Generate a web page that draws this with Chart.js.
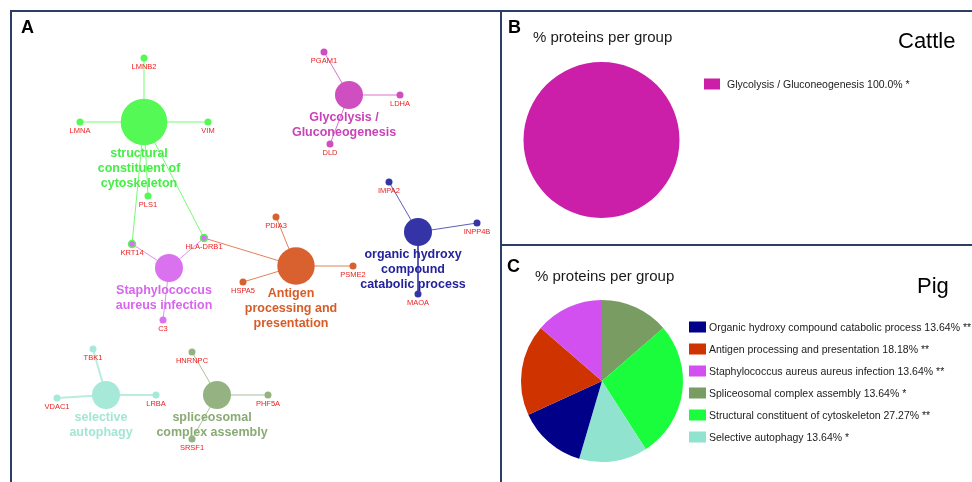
<!DOCTYPE html>
<html lang="en">
<head>
<meta charset="utf-8">
<title>Protein groups</title>
<script src="https://cdn.jsdelivr.net/npm/chart.js@4.4.1/dist/chart.umd.min.js"></script>
<style>
  body { margin: 0; background: #fff; width: 972px; height: 482px; overflow: hidden; position: relative; }
  canvas { position: absolute; }
  #reseau { left: 0; top: 0; }
  #bovin { left: 502px; top: 12px; }
  #porc { left: 502px; top: 247px; }
  .trait { position: absolute; background: #2a3e66; }
</style>
</head>
<body>
<canvas id="reseau" width="500" height="482"></canvas>
<canvas id="bovin" width="470" height="233"></canvas>
<canvas id="porc" width="470" height="235"></canvas>
<div class="trait" style="left:10px;top:10px;width:962px;height:2px"></div>
<div class="trait" style="left:10px;top:10px;width:2px;height:472px"></div>
<div class="trait" style="left:500px;top:10px;width:2px;height:472px"></div>
<div class="trait" style="left:500px;top:244px;width:472px;height:2px"></div>
<script>
// --- panel A : network of terms and genes (layout coordinates) ---
const termesLignes = [
    ["structural", "constituent of", "cytoskeleton"],
    ["Glycolysis /", "Gluconeogenesis"],
    ["organic hydroxy", "compound", "catabolic process"],
    ["Staphylococcus", "aureus infection"],
    ["Antigen", "processing and", "presentation"],
    ["selective", "autophagy"],
    ["spliceosomal", "complex assembly"],
];
const termesX = [144, 349, 418, 169, 296, 106, 217];
const termesY = [122, 95, 232, 268, 266, 395, 395];

const genes = ["LMNB2", "LMNA", "VIM", "PLS1", "KRT14", "HLA-DRB1", "PGAM1", "LDHA", "DLD",
    "IMPA2", "INPP4B", "MAOA", "C3", "PDIA3", "HSPA5", "PSME2", "TBK1", "VDAC1", "LRBA",
    "HNRNPC", "PHF5A", "SRSF1"];
const genesX = [144, 80, 208, 148, 132, 204, 324, 400, 330, 389, 477, 418, 163, 276, 243, 353, 93, 57, 156, 192, 268, 192];
const genesY = [58, 122, 122, 196, 244, 238, 52, 95, 144, 182, 223, 294, 320, 217, 282, 266, 349, 398, 395, 352, 395, 439];
const genesTermes = [[0], [0], [0], [0], [0, 3], [0, 3, 4], [1], [1], [1], [2], [2], [2], [3], [4], [4], [4], [5], [5], [5], [6], [6], [6]];

// --- panels B and C : pies ---
const bovinGroupes = ["Glycolysis / Gluconeogenesis"];
const bovinPourcents = [100.0];
const bovinEtoiles = ["*"];

const porcGroupes = ["Organic hydroxy compound catabolic process", "Antigen processing and presentation",
    "Staphylococcus aureus aureus infection", "Spliceosomal complex assembly",
    "Structural constituent of cytoskeleton", "Selective autophagy"];
const porcPourcents = [13.64, 18.18, 13.64, 13.64, 27.27, 13.64];
const porcEtoiles = ["**", "**", "**", "*", "**", "*"];
const porcOrdreParts = [3, 4, 5, 0, 1, 2]; // clockwise from 12 o'clock

// styles
const couleursTermes = ["#55f955", "#d04fc0", "#3434a6", "#da72ef", "#d9612f", "#a6e9d8", "#95b282"];
const couleursTextes = ["#45ee45", "#c943b8", "#23239c", "#d865ee", "#d65c28", "#a3e6d4", "#8aab74"];
const couleursBovin = ["#cb1fa9"];
const couleursPorc = ["#000088", "#cf3300", "#d24ff0", "#789c62", "#19fd3c", "#90e4cf"];
const POLICE = '"Liberation Sans", Arial, sans-serif';

function rayonTerme(nbGenes) {
    // hub size grows with the number of genes
    const tailles = { 3: 14, 4: 18.7, 6: 23.3 };
    return tailles[nbGenes] || 14;
}

const nbGenesParTerme = termesX.map((_, t) => genesTermes.filter(liste => liste.includes(t)).length);

const aretes = [];
genesTermes.forEach((liste, i) => {
    liste.forEach(t => {
        aretes.push({
            type: "line",
            data: [{ x: termesX[t], y: termesY[t] }, { x: genesX[i], y: genesY[i] }],
            borderColor: couleursTermes[t] + "cc",
            borderWidth: t === 5 ? 2 : 1,
            pointRadius: 0,
            order: 3,
        });
    });
});

const etiquettesReseau = {
    id: "etiquettesReseau",
    afterDatasetsDraw(chart) {
        const { ctx, scales: { x, y } } = chart;
        ctx.save();
        ctx.textAlign = "center";
        ctx.textBaseline = "middle";
        ctx.font = "7.5px " + POLICE;
        ctx.fillStyle = "#ee2020";
        genes.forEach((nom, i) => {
            ctx.fillText(nom, x.getPixelForValue(genesX[i]), y.getPixelForValue(genesY[i]) + 8.5);
        });
        ctx.font = "bold 12.5px " + POLICE;
        termesLignes.forEach((lignes, t) => {
            const px = x.getPixelForValue(termesX[t]) - 5;
            const py = y.getPixelForValue(termesY[t]) + rayonTerme(nbGenesParTerme[t]) + 8.5;
            ctx.fillStyle = couleursTextes[t];
            lignes.forEach((ligne, k) => ctx.fillText(ligne, px, py + k * 15));
        });
        ctx.textAlign = "left";
        ctx.textBaseline = "alphabetic";
        ctx.fillStyle = "#000";
        ctx.font = "bold 18px " + POLICE;
        ctx.fillText("A", 21, 33);
        ctx.restore();
    },
};

new Chart(document.getElementById("reseau"), {
    type: "scatter",
    data: {
        datasets: [
            {
                data: termesX.map((v, t) => ({ x: v, y: termesY[t] })),
                pointRadius: nbGenesParTerme.map(rayonTerme),
                pointHoverRadius: nbGenesParTerme.map(rayonTerme),
                backgroundColor: couleursTermes,
                borderWidth: 0,
                order: 1,
            },
            {
                data: genesX.map((v, i) => ({ x: v, y: genesY[i] })),
                pointRadius: 3.5,
                backgroundColor: genesTermes.map(l => couleursTermes[l[l.length > 1 ? 1 : 0]]),
                borderColor: genesTermes.map(l => couleursTermes[l[0]]),
                borderWidth: genesTermes.map(l => l.length > 1 ? 1.5 : 0),
                order: 2,
            },
            ...aretes,
        ],
    },
    options: {
        responsive: false,
        animation: false,
        layout: { padding: 0, autoPadding: false },
        scales: {
            x: { type: "linear", display: false, min: 0, max: 500 },
            y: { type: "linear", display: false, min: 0, max: 482, reverse: true },
        },
        plugins: { legend: { display: false }, tooltip: { enabled: false } },
    },
    plugins: [etiquettesReseau],
});

// --- pies ---
const textesPanneau = {
    id: "textesPanneau",
    afterDraw(chart, args, opts) {
        const ctx = chart.ctx;
        ctx.save();
        ctx.textAlign = "left";
        ctx.textBaseline = "alphabetic";
        ctx.fillStyle = "#000";
        ctx.font = "bold 18px " + POLICE;
        ctx.fillText(opts.lettre, opts.lettreX, opts.lettreY);
        ctx.fillStyle = "#1a1a1a";
        ctx.font = "15px " + POLICE;
        ctx.fillText("% proteins per group", opts.titreX, opts.titreY);
        ctx.fillStyle = "#000";
        ctx.font = "22px " + POLICE;
        ctx.fillText(opts.espece, opts.especeX, opts.especeY);
        ctx.font = "10.5px " + POLICE;
        opts.legende.forEach((item, k) => {
            const cy = opts.legendeY + k * opts.pas;
            ctx.fillStyle = item.couleur;
            ctx.fillRect(opts.carreX, cy - 5.5, opts.carreL, 11);
            ctx.fillStyle = "#1a1a1a";
            ctx.fillText(item.texte, opts.texteX, cy + 4);
        });
        ctx.restore();
    },
};

function creerCamembert(canvas, valeurs, couleurs, padding, legende, textes) {
    new Chart(canvas, {
        type: "pie",
        data: {
            labels: valeurs.map((_, i) => i),
            datasets: [{ data: valeurs, backgroundColor: couleurs, borderWidth: 0 }],
        },
        options: {
            responsive: false,
            animation: false,
            layout: { padding: padding },
            plugins: {
                legend: { display: false },
                tooltip: { enabled: false },
                textesPanneau: Object.assign({ legende: legende }, textes),
            },
        },
        plugins: [textesPanneau],
    });
}

creerCamembert(
    document.getElementById("bovin"),
    bovinPourcents,
    couleursBovin,
    { left: 21, top: 50, right: 292, bottom: 27 },
    bovinGroupes.map((g, i) => ({ texte: g + " " + bovinPourcents[i].toFixed(1) + "% " + bovinEtoiles[i], couleur: couleursBovin[i] })),
    { lettre: "B", lettreX: 6, lettreY: 21, titreX: 31, titreY: 30, espece: "Cattle", especeX: 396, especeY: 36,
      legendeY: 72, pas: 22, carreX: 202, carreL: 16, texteX: 225 }
);

creerCamembert(
    document.getElementById("porc"),
    porcOrdreParts.map(i => porcPourcents[i]),
    porcOrdreParts.map(i => couleursPorc[i]),
    { left: 19, top: 53, right: 289, bottom: 20 },
    porcGroupes.map((g, i) => ({ texte: g + " " + porcPourcents[i].toFixed(2) + "% " + porcEtoiles[i], couleur: couleursPorc[i] })),
    { lettre: "C", lettreX: 5, lettreY: 25, titreX: 33, titreY: 34, espece: "Pig", especeX: 415, especeY: 46,
      legendeY: 80, pas: 22, carreX: 187, carreL: 17, texteX: 207 }
);
</script>
</body>
</html>
